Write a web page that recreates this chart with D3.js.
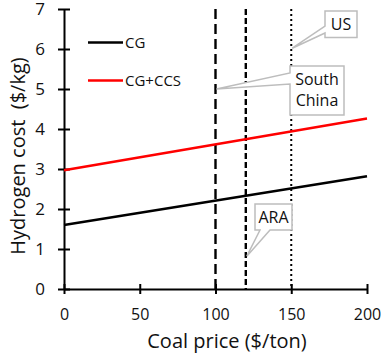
<!DOCTYPE html>
<html><head><meta charset="utf-8">
<script src="https://cdn.jsdelivr.net/npm/d3@7"></script>
<style>
body{margin:0;background:#fff;}
svg{display:block;font-family:"Open Sans",sans-serif;}
</style></head>
<body><svg id="c" width="385" height="354"></svg>
<script>
const coalPrice = [0, 200];
const cgCost = [1.6, 2.82];
const ccsCost = [2.97, 4.26];
const seriesNames = ["CG", "CG+CCS"];
const regionNames = ["South China", "ARA", "US"];
const regionPrices = [100, 120, 150];
const calloutTipCost = [5.0, 0.82, 6.02];
const xTicks = [0, 50, 100, 150, 200];
const yTicks = [0, 1, 2, 3, 4, 5, 6, 7];

const svg = d3.select("#c");
const x = d3.scaleLinear().domain([0, 200]).range([64, 367]);
const y = d3.scaleLinear().domain([0, 7]).range([289, 9]);

// axes
const gx = svg.append("g").attr("transform", `translate(0,${y(0)})`)
  .call(d3.axisBottom(x).tickValues(xTicks).tickFormat(d3.format("d")).tickSize(6).tickSizeOuter(0).tickPadding(14));
gx.select(".domain").attr("stroke", "#000").attr("stroke-width", 2);
gx.selectAll(".tick line").attr("y1", -5).attr("y2", 5).attr("stroke-width", 2);
gx.selectAll(".tick text").attr("font-size", 16).attr("font-family", "Open Sans").attr("fill", "#111");

const gy = svg.append("g").attr("transform", `translate(${x(0)},0)`)
  .call(d3.axisLeft(y).tickValues(yTicks).tickFormat(d3.format("d")).tickSize(6).tickSizeOuter(0).tickPadding(13));
gy.select(".domain").attr("stroke", "#000").attr("stroke-width", 2);
gy.selectAll(".tick line").attr("x1", -6).attr("x2", 6).attr("stroke-width", 2);
gy.selectAll(".tick text").attr("font-size", 17).attr("font-family", "Open Sans").attr("fill", "#111");

// reference vertical lines
const dashes = ["10,5", "6,3", "2,3"];
svg.selectAll(".ref").data(regionPrices).join("line")
  .attr("x1", d => x(d)).attr("x2", d => x(d))
  .attr("y1", y(7)).attr("y2", y(0))
  .attr("stroke", "#000").attr("stroke-width", (d, i) => i === 2 ? 2 : 2.4)
  .attr("stroke-dasharray", (d, i) => dashes[i]);

// data lines
const line = d3.line().x(d => x(d[0])).y(d => y(d[1]));
const colors = ["#000", "#f00"];
[cgCost, ccsCost].forEach((s, i) => {
  svg.append("path").datum(coalPrice.map((p, j) => [p, s[j]]))
    .attr("d", line).attr("fill", "none").attr("stroke", colors[i]).attr("stroke-width", 2.5);
});

// legend
const legY = [42.5, 80.5];
seriesNames.forEach((n, i) => {
  svg.append("line").attr("x1", 88).attr("x2", 123).attr("y1", legY[i]).attr("y2", legY[i])
    .attr("stroke", colors[i]).attr("stroke-width", 2.5);
  svg.append("text").attr("x", 125).attr("y", legY[i] + 5.5).attr("font-size", 15)
    .attr("fill", "#111").text(n);
});

// callouts
function callout(box, wedge, tip, lines, fs) {
  const g = svg.append("g");
  const [bx, by, bw, bh] = box;
  let pts;
  if (wedge.side === "left") {
    pts = [[bx, by], [bx + bw, by], [bx + bw, by + bh], [bx, by + bh], [bx, wedge.b], tip, [bx, wedge.a]];
  } else {
    pts = [[bx, by], [bx + bw, by], [bx + bw, by + bh], [wedge.b, by + bh], tip, [wedge.a, by + bh], [bx, by + bh]];
  }
  g.append("path").attr("d", "M" + pts.map(p => p.join(",")).join("L") + "Z")
    .attr("fill", "#fff").attr("stroke", "#bdbdbd").attr("stroke-width", 1.5);
  lines.forEach((t, k) => {
    g.append("text").attr("x", bx + bw / 2).attr("y", by + 19 + k * 21)
      .attr("text-anchor", "middle").attr("font-size", fs).attr("fill", "#111").text(t);
  });
}
// South China
callout([290, 66, 54, 49], {side: "left", a: 73, b: 84}, [x(regionPrices[0]) + 1, y(calloutTipCost[0])], ["South", "China"], 16);
// US
callout([325, 11, 32, 26.5], {side: "left", a: 26, b: 33}, [x(regionPrices[2]) + 1, y(calloutTipCost[2])], ["US"], 16);
// ARA
callout([255, 204, 37, 26], {side: "bottom", a: 260, b: 270}, [x(regionPrices[1]) + 1, y(calloutTipCost[1])], ["ARA"], 16);

// axis titles
svg.append("text").attr("x", 227).attr("y", 348).attr("text-anchor", "middle")
  .attr("font-size", 20).attr("fill", "#111").text("Coal price ($/ton)");
svg.append("text").attr("transform", "translate(25,156) rotate(-90)").attr("text-anchor", "middle")
  .attr("font-size", 20).attr("fill", "#111").attr("xml:space", "preserve").text("Hydrogen cost  ($/kg)");
</script></body></html>
